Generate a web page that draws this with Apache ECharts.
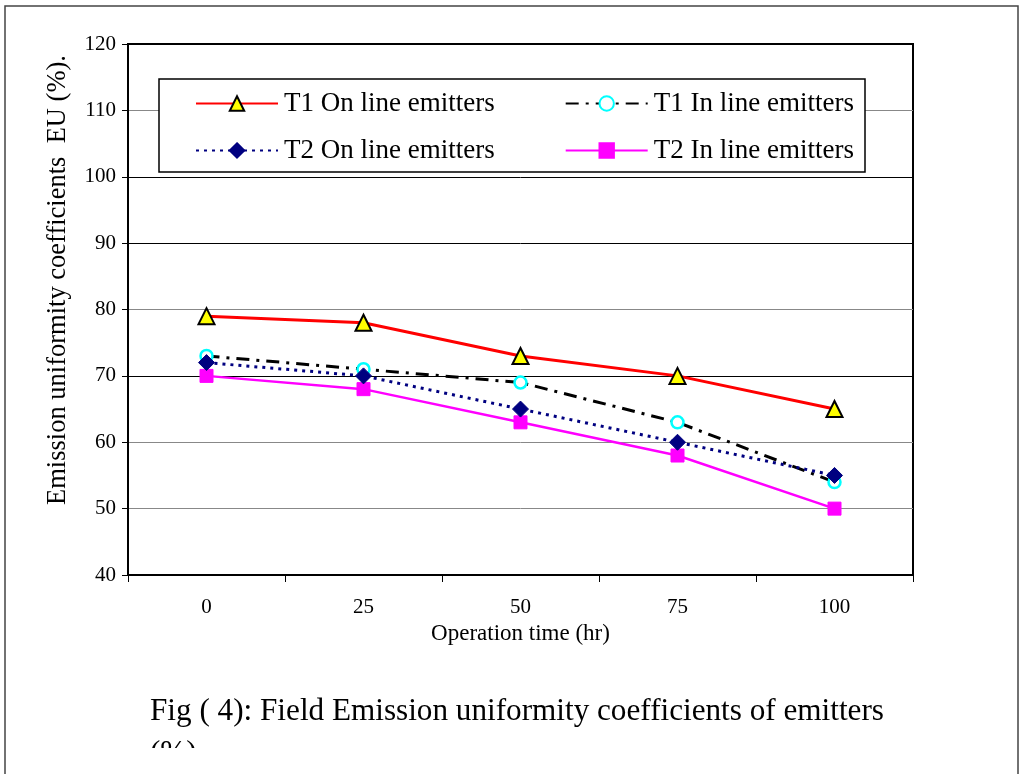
<!DOCTYPE html>
<html>
<head>
<meta charset="utf-8">
<script src="https://cdn.jsdelivr.net/npm/echarts@6/dist/echarts.min.js"></script>
<style>html,body{margin:0;padding:0;background:#fff;}#chart{width:1020px;height:774px;}</style>
</head>
<body>
<div id="chart"></div>
<script>
const categories = ['0', '25', '50', '75', '100'];
const t1OnLine = [79, 78, 73, 70, 65];
const t1InLine = [73, 71, 69, 63, 54];
const t2OnLine = [72, 70, 65, 60, 55];
const t2InLine = [70, 68, 63, 58, 50];
const seriesNames = ['T1 On line emitters', 'T1 In line emitters', 'T2 On line emitters', 'T2 In line emitters'];
const yAxisTitle = 'Emission uniformity coefficients  EU (%).';
const xAxisTitle = 'Operation time (hr)';
const captionLine1 = 'Fig ( 4): Field Emission uniformity coefficients of emitters';
const captionLine2 = '(%)';

const FONT = '"Liberation Serif", "Times New Roman", serif';
const chart = echarts.init(document.getElementById('chart'));
const legendText = { fontFamily: FONT, fontSize: 27, color: '#000', padding: [0, 0, 0, 1] };

chart.setOption({
  animation: false,
  backgroundColor: '#fff',
  grid: { left: 128, right: 107, top: 44, bottom: 199, show: true, borderColor: '#000', borderWidth: 2, backgroundColor: 'transparent' },
  xAxis: {
    type: 'category',
    data: categories,
    boundaryGap: true,
    axisLine: { show: true, lineStyle: { color: '#000', width: 2 } },
    axisTick: { show: true, length: 7, lineStyle: { color: '#000', width: 1 } },
    axisLabel: { fontFamily: FONT, fontSize: 21, color: '#000', margin: 22 },
    name: xAxisTitle,
    nameLocation: 'middle',
    nameGap: 46,
    nameTextStyle: { fontFamily: FONT, fontSize: 23, color: '#000' },
    splitLine: { show: false }
  },
  yAxis: {
    type: 'value',
    min: 40, max: 120, interval: 10,
    axisLine: { show: true, lineStyle: { color: '#000', width: 2 } },
    axisTick: { show: true, length: 6, lineStyle: { color: '#000', width: 1 } },
    axisLabel: { fontFamily: FONT, fontSize: 21, color: '#000', margin: 12 },
    splitLine: { show: true, lineStyle: { color: ['#000', '#888', '#888', '#000', '#888', '#000', '#000', '#888', '#000'], width: 1 } }
  },
  legend: [
    { z: 10, padding: 0, data: [seriesNames[0], seriesNames[1]], left: 195, top: 90, itemWidth: 82, itemHeight: 18, itemGap: 70, textStyle: legendText, selectedMode: false },
    { z: 10, padding: 0, data: [seriesNames[2], seriesNames[3]], left: 195, top: 137, itemWidth: 82, itemHeight: 18, itemGap: 70, textStyle: legendText, selectedMode: false }
  ],
  graphic: [
    { type: 'rect', z: -1, shape: { x: 5, y: 6, width: 1013, height: 820 }, style: { fill: 'none', stroke: '#444', lineWidth: 1.5 } },
    { type: 'rect', z: 3, shape: { x: 159, y: 79, width: 706, height: 93 }, style: { fill: '#fff', stroke: '#000', lineWidth: 1.5 } },
    { type: 'text', z: 5, x: 58, y: 280, rotation: Math.PI / 2, style: { text: yAxisTitle, font: '26.5px ' + FONT, fill: '#000', align: 'center', verticalAlign: 'middle' } },
    { type: 'text', z: 5, x: 150, y: 712, style: { text: captionLine1, font: '31.2px ' + FONT, fill: '#000', align: 'left', verticalAlign: 'middle' } },
    { type: 'text', z: 5, x: 150, y: 738, style: { text: captionLine2, font: '31px ' + FONT, fill: '#000', align: 'left', verticalAlign: 'top' } },
    { type: 'rect', z: 6, shape: { x: 140, y: 748, width: 120, height: 30 }, style: { fill: '#fff', stroke: 'none' } }
  ],
  series: [
    {
      name: seriesNames[0], type: 'line', data: t1OnLine, z: 4,
      symbol: 'triangle', symbolSize: 16,
      itemStyle: { color: '#ffff00', borderColor: '#000', borderWidth: 2 },
      lineStyle: { color: '#ff0000', width: 3, type: 'solid' }
    },
    {
      name: seriesNames[1], type: 'line', data: t1InLine, z: 3,
      symbol: 'circle', symbolSize: 12,
      itemStyle: { color: '#fff', borderColor: '#00ffff', borderWidth: 2.5 },
      lineStyle: { color: '#000', width: 3, type: [13, 7, 3, 7] }
    },
    {
      name: seriesNames[2], type: 'line', data: t2OnLine, z: 3,
      symbol: 'diamond', symbolSize: 16,
      itemStyle: { color: '#000080', borderColor: '#000080', borderWidth: 1 },
      lineStyle: { color: '#000080', width: 3, type: [3, 5] }
    },
    {
      name: seriesNames[3], type: 'line', data: t2InLine, z: 2,
      symbol: 'rect', symbolSize: 13,
      itemStyle: { color: '#ff00ff', borderColor: '#ff00ff', borderWidth: 1 },
      lineStyle: { color: '#ff00ff', width: 2.5, type: 'solid' }
    }
  ]
});
</script>
</body>
</html>
